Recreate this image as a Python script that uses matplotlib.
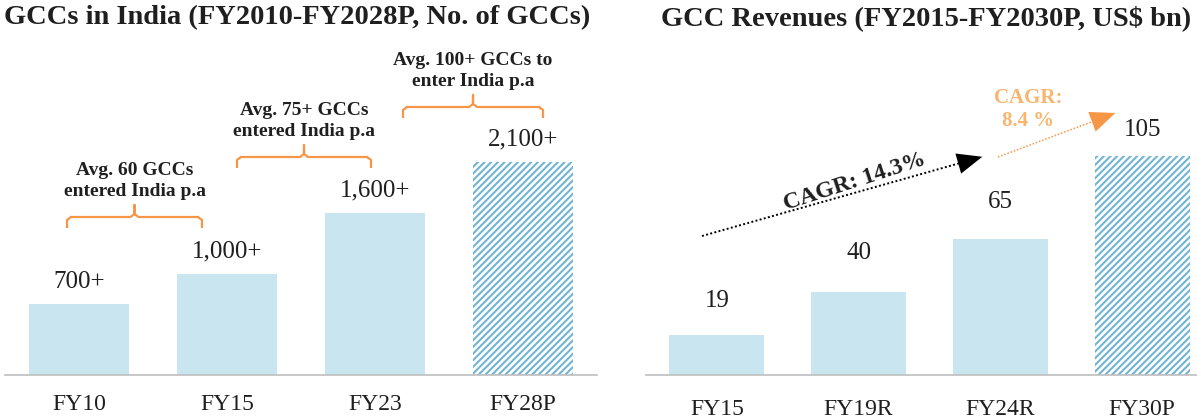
import matplotlib
matplotlib.use("Agg")
import matplotlib.pyplot as plt
from matplotlib.patches import FancyArrowPatch

# data
gcc_years = ["FY10", "FY15", "FY23", "FY28P"]
gcc_counts = [700, 1000, 1600, 2100]
gcc_labels = ["700+", "1,000+", "1,600+", "2,100+"]

rev_years = ["FY15", "FY19R", "FY24R", "FY30P"]
rev_values = [19, 40, 65, 105]
rev_labels = ["19", "40", "65", "105"]

bracket_texts = ["Avg. 60 GCCs\nentered India p.a",
                 "Avg. 75+ GCCs\nentered India p.a",
                 "Avg. 100+ GCCs to\nenter India p.a"]

BAR = "#C9E6F0"
HATCH = "#72B4D3"
ORANGE = "#F79646"
ORANGE_TXT = "#F9B46E"
TXT = "#1F1F1F"

plt.rcParams["font.family"] = ["Liberation Serif", "DejaVu Serif"]
plt.rcParams["hatch.linewidth"] = 1.5

W, H = 1197, 419
fig = plt.figure(figsize=(W / 100, H / 100), dpi=100)


def px_axes(x0, x1, y_top, y_base):
    return fig.add_axes([x0 / W, 1 - y_base / H, (x1 - x0) / W, (y_base - y_top) / H])


def bars(ax, values, labels, years, gaps, pad):
    """gaps: distance in points between bar top and its value label."""
    for i, v in enumerate(values):
        if i == len(values) - 1:
            ax.bar(i, v, width=0.67, color="white", edgecolor=HATCH,
                   hatch="/////", linewidth=0)
        else:
            ax.bar(i, v, width=0.67, color=BAR, linewidth=0)
        ax.annotate(labels[i], (i, v), xytext=(0, gaps[i]), textcoords="offset points",
                    ha="center", va="center", fontsize=18, color=TXT)
    ax.set_xticks(range(len(values)))
    ax.set_xticklabels(years, fontsize=17, color=TXT)
    ax.tick_params(axis="x", length=0, pad=pad)
    ax.set_yticks([])
    for s in ["top", "right", "left"]:
        ax.spines[s].set_visible(False)
    ax.spines["bottom"].set_color("#BFBFBF")
    ax.spines["bottom"].set_linewidth(1.2)
    ax.set_xlim(-0.5, 3.5)


# left chart: 0.1014 px per GCC, baseline at 375 px
ax1 = px_axes(5, 597, 40, 375)
ax1.set_ylim(0, 335 / 0.1014)
bars(ax1, gcc_counts, gcc_labels, gcc_years, [16, 16, 16, 16.5], 14)

# right chart: 2.086 px per US$ bn
ax2 = px_axes(646, 1213, 40, 375)
ax2.set_ylim(0, 335 / 2.086)
bars(ax2, rev_values, rev_labels, rev_years, [25, 28, 27, 19], 17.5)

# overlay in pixel coordinates for titles and annotations
ov = fig.add_axes([0, 0, 1, 1])
ov.set_xlim(0, W)
ov.set_ylim(H, 0)
ov.axis("off")
ov.patch.set_alpha(0)

ov.text(297, 18, "GCCs in India (FY2010-FY2028P, No. of GCCs)", ha="center", va="center",
        fontsize=20.5, fontweight="bold", color=TXT)
ov.text(926, 18, "GCC Revenues (FY2015-FY2030P, US$ bn)", ha="center", va="center",
        fontsize=20.5, fontweight="bold", color=TXT)

# brackets: (x left, x right, y of horizontal)
brackets = [(67, 202, 217), (237, 371, 157), (403, 543, 107)]
for (xl, xr, yh), txt in zip(brackets, bracket_texts):
    xc = (xl + xr) / 2
    ov.plot([xl, xl, xl + 4], [yh + 11, yh + 3, yh], color=ORANGE, lw=1.6,
            solid_capstyle="butt")
    ov.plot([xr, xr, xr - 4], [yh + 11, yh + 3, yh], color=ORANGE, lw=1.6,
            solid_capstyle="butt")
    ov.plot([xl + 4, xc - 4, xc, xc, xc, xc + 4, xr - 4],
            [yh, yh, yh - 3, yh - 12, yh - 3, yh, yh], color=ORANGE, lw=1.6)
    ov.text(xc, yh - 36, txt, ha="center", va="center", fontsize=14,
            fontweight="bold", color=TXT, linespacing=1.25)


def cagr_arrow(p0, p1, color, lw):
    # dotted shaft plus solid head
    ux, uy = p1[0] - p0[0], p1[1] - p0[1]
    n = (ux ** 2 + uy ** 2) ** 0.5
    base = (p1[0] - ux / n * 16, p1[1] - uy / n * 16)
    ov.plot([p0[0], base[0]], [p0[1], base[1]], color=color, lw=lw, ls=(0, (1, 1.2)))
    ov.add_patch(FancyArrowPatch(base, p1, arrowstyle="-|>,head_length=18,head_width=7.5",
                                 color=color, lw=0, mutation_scale=1))


cagr_arrow((702, 236), (985, 156), "black", 1.4)
ov.text(855, 182, "CAGR: 14.3%", ha="center", va="center", rotation=18,
        fontsize=17, fontweight="bold", color=TXT)

cagr_arrow((998, 157), (1118, 112), ORANGE, 1.1)
ov.text(1028, 109, "CAGR:\n8.4 %", ha="center", va="center", fontsize=15,
        fontweight="bold", color=ORANGE_TXT, linespacing=1.2)

fig.savefig("out.png", dpi=100)
